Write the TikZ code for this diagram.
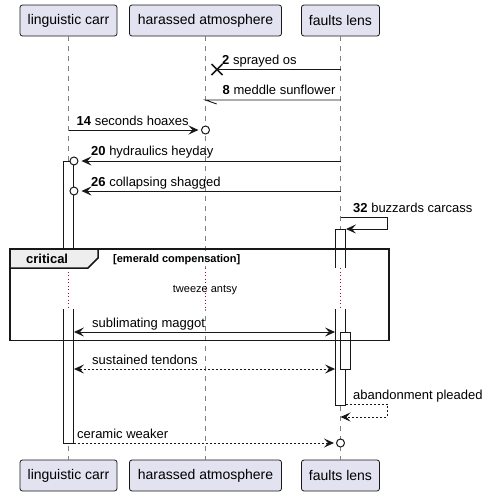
\documentclass[tikz,border=0pt]{standalone}
\usepackage{fontspec}
\setmainfont{Liberation Sans}
\usetikzlibrary{arrows.meta,calc}
\definecolor{partfill}{HTML}{E2E2F0}
\definecolor{partline}{HTML}{181818}
\definecolor{delayred}{HTML}{A80036}
\definecolor{tabfill}{HTML}{EEEEEE}
\tikzset{
  participant/.style={draw=partline, fill=partfill, rounded corners=2.5pt, line width=0.8pt,
    minimum height=31pt, inner sep=0pt, font=\fontsize{14}{16}\selectfont},
  lifeline/.style={draw=gray, line width=0.8pt, dash pattern=on 5pt off 5pt},
  delayline/.style={draw=delayred, line width=0.8pt, dash pattern=on 1pt off 2.5pt},
  actbar/.style={draw=partline, fill=white, line width=0.9pt, minimum width=10pt, inner sep=0pt, anchor=north},
  tip/.style={},
  msg/.style={draw=partline, line width=0.9pt, -{Stealth[length=10pt,width=9pt,inset=4pt]}},
  twoway/.style={msg, {Stealth[length=10pt,width=9pt,inset=4pt]}-{Stealth[length=10pt,width=9pt,inset=4pt]}},
  reply/.style={dash pattern=on 2pt off 2pt},
  lbl/.style={anchor=base west, inner sep=0pt, font=\fontsize{13}{15}\selectfont},
  endcirc/.style={circle, draw=partline, fill=white, minimum size=8pt, inner sep=0pt, line width=1pt},
}
\begin{document}
\begin{tikzpicture}[x=1pt, y=-1pt]
\useasboundingbox (0,0) rectangle (485,496);

% participants
\node[participant, minimum width=97pt] (lcT) at (68.5,20.5) {linguistic carr};
\node[participant, minimum width=152pt] (haT) at (205.5,20.5) {harassed atmosphere};
\node[participant, minimum width=78pt] (flT) at (340.5,20.5) {faults lens};
\node[participant, minimum width=97pt] (lcB) at (68.5,475.5) {linguistic carr};
\node[participant, minimum width=152pt] (haB) at (205.5,475.5) {harassed atmosphere};
\node[participant, minimum width=78pt] (flB) at (340.5,475.5) {faults lens};

\draw[lifeline] (lcT.south) -- (lcB.north);
\draw[lifeline] (haT.south) -- (haB.north);
\draw[lifeline] (flT.south) -- (flB.north);

% rows
\coordinate (r2) at (0,69.5);
\coordinate (r8) at (0,100);
\coordinate (r14) at (0,130);
\coordinate (r20) at (0,161);
\coordinate (r26) at (0,191);
\coordinate (r32) at (0,217);
\coordinate (r32b) at (0,229);
\coordinate (dTop) at (0,268);
\coordinate (dBot) at (0,309);
\coordinate (rSub) at (0,332);
\coordinate (rSus) at (0,369);
\coordinate (rAbd) at (0,404);
\coordinate (rAbd2) at (0,417);
\coordinate (rCer) at (0,443);
\coordinate (selfR) at (387.5,0);

% activations
\node[actbar, minimum height=282pt] (barL) at (lcT |- r20) {};
\node[actbar, minimum height=176pt] (barF) at (flT |- r32b) {};
\node[actbar, minimum height=37pt] (barF2) at ($(flT |- rSub)+(5,0)$) {};

% delay
\fill[white] (12,268) rectangle (387,309);
\draw[delayline] (lcT |- dTop) -- (lcT |- dBot);
\draw[delayline] (haT |- dTop) -- (haT |- dBot);
\draw[delayline] (flT |- dTop) -- (flT |- dBot);
\node[font=\fontsize{11}{13}\selectfont, anchor=base, inner sep=0pt] (dly) at (205,292.5) {tweeze antsy};

% critical group
\draw[partline, line width=1.5pt] (10,249) rectangle (389,340.5);
\draw[partline, line width=1.5pt, fill=tabfill] (10,249) -- (98,249) -- (98,258) -- (88,268) -- (10,268) -- cycle;
\node[anchor=base west, inner sep=0pt, font=\fontsize{13}{15}\selectfont\bfseries] (crit) at (26,263) {critical};
\node[anchor=base west, inner sep=0pt, font=\fontsize{11}{13}\selectfont\bfseries] (guard) at (113,262.5) {[emerald compensation]};

% messages
\coordinate (kill) at (217,69.5);
\draw[partline, line width=0.9pt] (flT |- r2) -- (kill);
\draw[partline, line width=1.5pt] ($(kill)+(-5.5,-5.5)$) -- ($(kill)+(5.5,5.5)$)
  ($(kill)+(-5.5,5.5)$) -- ($(kill)+(5.5,-5.5)$);
\node[lbl] (t2) at (222,64.5) {\textbf{2} sprayed os};

\coordinate (barb8) at (216.7,104);
\draw[partline, line width=0.9pt] (flT |- r8) -- (haT |- r8) -- (barb8);
\node[lbl] (t8) at (222.5,94.5) {\textbf{8} meddle sunflower};

\draw[msg, shorten >=7pt] (lcT |- r14) -- (haT |- r14);
\node[endcirc] (c14) at (haT |- r14) {};
\node[lbl] (t14) at (76.5,125.5) {\textbf{14} seconds hoaxes};

\draw[msg, shorten >=7.5pt] (flT |- r20) -- (barL.east |- r20);
\node[endcirc] (c20) at (barL.east |- r20) {};
\node[lbl] (t20) at (91,155.5) {\textbf{20} hydraulics heyday};

\draw[msg, shorten >=7.5pt] (flT |- r26) -- (barL.east |- r26);
\node[endcirc] (c26) at (barL.east |- r26) {};
\node[lbl] (t26) at (91,186) {\textbf{26} collapsing shagged};

\draw[msg] (flT |- r32) -- (selfR |- r32) -- (selfR |- r32b) -- (barF.north east);
\node[lbl] (t32) at (353,212) {\textbf{32} buzzards carcass};

\draw[twoway] (barL.east |- rSub) -- (barF.west |- rSub);
\node[lbl] (tSub) at (92,327) {sublimating maggot};

\draw[twoway, reply] (barL.east |- rSus) -- (barF.west |- rSus);
\node[lbl] (tSus) at (92,364) {sustained tendons};

\draw[msg, reply] (barF.east |- rAbd) -- (selfR |- rAbd) -- (selfR |- rAbd2) -- (flT |- rAbd2);
\node[lbl] (tAbd) at (353,399) {abandonment pleaded};

\draw[msg, reply, shorten >=6.5pt] (barL.east |- rCer) -- (flT |- rCer);
\node[endcirc] (cCer) at (flT |- rCer) {};
\node[lbl] (tCer) at (77,438) {ceramic weaker};

\end{tikzpicture}
\end{document}
